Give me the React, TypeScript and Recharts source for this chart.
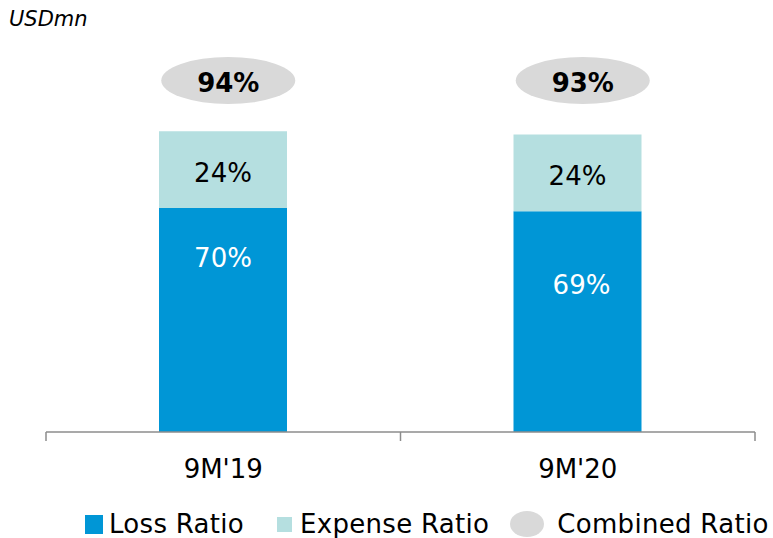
import React from 'react';
import { BarChart, Bar, XAxis, YAxis, LabelList, ReferenceDot } from 'recharts';

const categories = ["9M'19", "9M'20"];
const lossRatio = [70, 69];
const expenseRatio = [24, 24];
const combinedRatio = [94, 93];
const seriesNames = ['Loss Ratio', 'Expense Ratio', 'Combined Ratio'];

const W = 773;
const H = 538;
const MARGIN = { top: 80, right: 18, bottom: 56, left: 46 };
const FONT = '"DejaVu Sans", Verdana, sans-serif';
const LOSS = '#0096D6';
const EXPENSE = '#B5DFE0';
const BUBBLE = '#D9D9D9';
const AXIS = '#8C8C8C';

// the bubble row sits on a fixed lane above the stacks
const BUBBLE_LANE = 110;

const data = categories.map((name, i) => ({
  name,
  loss: lossRatio[i],
  expense: expenseRatio[i],
  combined: combinedRatio[i],
}));

const halfBand = (W - MARGIN.left - MARGIN.right) / categories.length / 2;

const CategoryTick = (props: any) => {
  const { x, y, payload, index } = props;
  const last = index === categories.length - 1;
  return (
    <g>
      <line x1={x - halfBand} y1={y - 8} x2={x - halfBand} y2={y + 1} stroke={AXIS} strokeWidth={1.5} />
      {last && <line x1={x + halfBand} y1={y - 8} x2={x + halfBand} y2={y + 1} stroke={AXIS} strokeWidth={1.5} />}
      <text x={x} y={y + 38} textAnchor="middle" fontFamily={FONT} fontSize={26} fill="#000">
        {payload.value}
      </text>
    </g>
  );
};

// loss labels are not centred in the original, nudge them
const lossNudge = [
  { dx: 0, dy: -63 },
  { dx: 4, dy: -38 },
];

const LossLabel = (props: any) => {
  const { x, y, width, height, value, index } = props;
  const n = lossNudge[index] || { dx: 0, dy: 0 };
  return (
    <text
      x={x + width / 2 + n.dx}
      y={y + height / 2 + n.dy + 10}
      textAnchor="middle"
      fontFamily={FONT}
      fontSize={26}
      fill="#fff"
    >
      {value}%
    </text>
  );
};

const ExpenseLabel = (props: any) => {
  const { x, y, width, height, value } = props;
  return (
    <text x={x + width / 2} y={y + height / 2 + 12} textAnchor="middle" fontFamily={FONT} fontSize={26} fill="#000">
      {value}%
    </text>
  );
};

const bubbleShape = (value: number) => (props: any) => {
  const { cx, cy } = props;
  return (
    <g>
      <ellipse cx={cx + 5} cy={cy + 0.5} rx={67} ry={23.5} fill={BUBBLE} />
      <text x={cx + 5} y={cy + 12} textAnchor="middle" fontFamily={FONT} fontSize={26} fontWeight="bold" fill="#000">
        {value}%
      </text>
    </g>
  );
};

const Legend = () => (
  <div
    style={{
      position: 'absolute',
      left: 85,
      top: 509,
      display: 'flex',
      alignItems: 'center',
      fontFamily: FONT,
      fontSize: 26,
      letterSpacing: 0.3,
      color: '#000',
      whiteSpace: 'nowrap',
      height: 30,
    }}
  >
    <span style={{ width: 18, height: 19, background: LOSS, display: 'inline-block' }} />
    <span style={{ marginLeft: 6 }}>{seriesNames[0]}</span>
    <span style={{ width: 15, height: 15, background: EXPENSE, display: 'inline-block', marginLeft: 33 }} />
    <span style={{ marginLeft: 8 }}>{seriesNames[1]}</span>
    <span style={{ width: 34, height: 26, borderRadius: '50%', background: BUBBLE, display: 'inline-block', marginLeft: 21 }} />
    <span style={{ marginLeft: 13 }}>{seriesNames[2]}</span>
  </div>
);

export default function App() {
  return (
    <div style={{ position: 'absolute', left: 0, top: 0, width: W, height: H, background: '#fff', overflow: 'hidden' }}>
      <div
        style={{
          position: 'absolute',
          left: 9,
          top: 7,
          fontFamily: FONT,
          fontSize: 21,
          fontStyle: 'italic',
          color: '#000',
        }}
      >
        USDmn
      </div>
      <BarChart width={W} height={H} data={data} margin={MARGIN} barSize={128}>
        <XAxis
          dataKey="name"
          height={50}
          axisLine={{ stroke: AXIS, strokeWidth: 1.5 }}
          tickLine={false}
          tick={<CategoryTick />}
          interval={0}
        />
        <YAxis hide domain={[0, BUBBLE_LANE]} width={0} />
        <Bar dataKey="loss" stackId="a" fill={LOSS} isAnimationActive={false}>
          <LabelList dataKey="loss" content={<LossLabel />} />
        </Bar>
        <Bar dataKey="expense" stackId="a" fill={EXPENSE} isAnimationActive={false}>
          <LabelList dataKey="expense" content={<ExpenseLabel />} />
        </Bar>
        {data.map((d) => (
          <ReferenceDot
            key={d.name}
            x={d.name}
            y={BUBBLE_LANE}
            ifOverflow="visible"
            shape={bubbleShape(d.combined)}
          />
        ))}
      </BarChart>
      <Legend />
    </div>
  );
}
